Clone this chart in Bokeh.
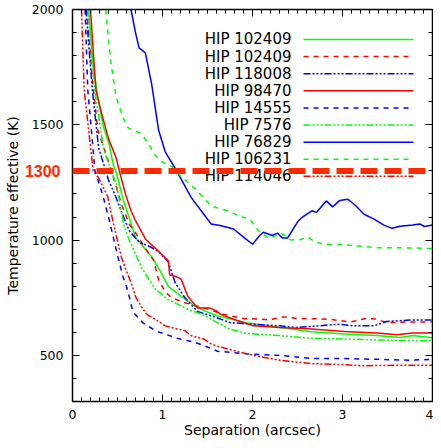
from bokeh.plotting import figure
from bokeh.models import (LinearAxis, Span, Range1d, SingleIntervalTicker, FixedTicker,
                          CustomJSTickFormatter)
from bokeh.core.properties import value
from bokeh.embed import file_html
from bokeh.resources import INLINE

# ---------------- data ----------------
names = ["HIP 102409", "HIP 102409", "HIP 118008", "HIP 98470", "HIP 14555",
         "HIP 7576", "HIP 76829", "HIP 106231", "HIP 114046"]

sep_102409_g = [0.18, 0.23, 0.286, 0.34, 0.41, 0.45, 0.49, 0.557, 0.63, 0.70, 0.74, 0.85, 0.88, 0.99,
                1.065, 1.21, 1.39, 1.61, 1.93, 2.30, 2.66, 3.02, 3.38, 3.64, 3.78, 4.0]
teff_102409_g = [2000, 1754, 1611, 1497, 1412, 1330, 1290, 1184, 1098, 1010, 995, 941, 928, 856,
                 799, 756, 706, 671, 642, 621, 603, 593, 586, 578, 586, 576]

sep_102409_r = [0.16, 0.22, 0.28, 0.41, 0.47, 0.55, 0.63, 0.72, 0.80, 0.90, 0.957, 1.03, 1.10, 1.25,
                1.46, 1.68, 1.90, 2.08, 2.19, 2.33, 2.48, 2.84, 3.09, 3.27, 3.38, 3.49, 3.75, 4.0]
teff_102409_r = [2000, 1700, 1480, 1330, 1250, 1150, 1070, 1020, 970, 913, 828, 775, 750, 728,
                 706, 678, 660, 657, 654, 667, 661, 657, 645, 661, 657, 642, 645, 645]

sep_118008 = [0.15, 0.22, 0.29, 0.37, 0.40, 0.47, 0.54, 0.63, 0.74, 0.87, 0.957, 1.065, 1.14, 1.25,
              1.39, 1.57, 1.75, 2.01, 2.30, 2.48, 2.73, 2.95, 3.13, 3.35, 3.49, 3.75, 4.0]
teff_118008 = [2000, 1654, 1400, 1300, 1260, 1198, 1127, 1041, 991, 970, 949, 905, 815, 750,
               690, 668, 642, 635, 628, 621, 628, 635, 628, 628, 647, 653, 653]

sep_98470 = [0.20, 0.26, 0.32, 0.40, 0.486, 0.52, 0.59, 0.65, 0.70, 0.81, 0.96, 1.065, 1.08, 1.14,
             1.19, 1.21, 1.28, 1.39, 1.52, 1.59, 1.645, 1.79, 2.01, 2.30, 2.66, 3.02, 3.38, 3.60,
             3.78, 4.0]
teff_98470 = [2000, 1650, 1554, 1440, 1355, 1300, 1198, 1127, 1084, 1005, 950, 910, 849, 843,
              835, 828, 756, 706, 706, 695, 678, 657, 628, 621, 614, 604, 597, 590, 597, 597]

sep_14555 = [0.14, 0.17, 0.25, 0.34, 0.41, 0.49, 0.56, 0.60, 0.63, 0.67, 0.78, 0.92, 1.17, 1.36,
             1.54, 1.61, 1.93, 2.30, 2.66, 3.02, 3.38, 3.75, 4.0]
teff_14555 = [2000, 1650, 1300, 1190, 1085, 950, 842, 799, 756, 690, 642, 607, 573, 557,
              530, 518, 507, 500, 486, 486, 483, 479, 483]

sep_7576 = [0.17, 0.245, 0.345, 0.43, 0.49, 0.54, 0.576, 0.63, 0.67, 0.775, 0.92, 1.065, 1.28,
            1.46, 1.61, 1.75, 1.93, 2.30, 2.66, 3.02, 3.38, 3.75, 4.0]
teff_7576 = [2000, 1654, 1397, 1300, 1241, 1127, 1055, 1000, 965, 875, 787, 742, 700,
             675, 642, 614, 595, 586, 574, 571, 567, 564, 564]

sep_76829 = [0.65, 0.70, 0.74, 0.77, 0.81, 0.88, 0.957, 1.03, 1.14, 1.20, 1.28, 1.32, 1.54, 1.64,
             1.79, 1.90, 2.0, 2.08, 2.12, 2.22, 2.28, 2.33, 2.39, 2.51, 2.55, 2.66, 2.71, 2.82,
             2.89, 2.97, 3.06, 3.15, 3.24, 3.35, 3.46, 3.55, 3.64, 3.78, 3.86, 3.91, 4.0]
teff_76829 = [2000, 1900, 1833, 1825, 1811, 1675, 1476, 1383, 1312, 1270, 1212, 1184, 1070, 1063,
              1048, 1013, 982, 1020, 1034, 1020, 1030, 1009, 1009, 1084, 1098, 1127, 1120, 1170,
              1144, 1172, 1177, 1148, 1112, 1091, 1065, 1051, 1060, 1065, 1070, 1059, 1065]

sep_106231 = [0.37, 0.377, 0.43, 0.486, 0.56, 0.61, 0.65, 0.72, 0.77, 0.85, 0.92, 0.99, 1.10, 1.21,
              1.25, 1.39, 1.54, 1.72, 1.90, 1.96, 2.08, 2.19, 2.26, 2.32, 2.42, 2.51, 2.61, 2.70,
              2.80, 3.02, 3.38, 3.78, 4.0]
teff_106231 = [2000, 1960, 1761, 1618, 1533, 1490, 1480, 1470, 1460, 1412, 1369, 1340, 1320, 1275,
               1262, 1212, 1148, 1127, 1098, 1095, 1034, 1006, 1020, 1030, 1001, 999, 1013, 991,
               982, 980, 967, 966, 963]

sep_114046 = [0.10, 0.13, 0.23, 0.29, 0.39, 0.45, 0.54, 0.595, 0.667, 0.70, 0.74, 0.81, 0.85, 0.92,
              1.03, 1.10, 1.25, 1.32, 1.46, 1.54, 1.61, 1.83, 2.01, 2.30, 2.66, 3.02, 3.20, 3.57,
              4.0]
teff_114046 = [2000, 1650, 1300, 1270, 1190, 1080, 930, 870, 799, 756, 728, 685, 671, 657,
               628, 621, 607, 585, 571, 550, 540, 517, 500, 479, 464, 460, 455, 457, 457]

threshold = 1300
x_min, x_max = 0, 4
y_min, y_max = 300, 2000
x_ticks_interval = 1
y_ticks_interval = 500

# ---------------- styling ----------------
GREEN, RED, BLUE = "#00ff00", "#ff0000", "#0000ff"
DASH = "5 5"
DASH3DOT = "7 2 2 2 2 2 2 2"
series = [
    (sep_102409_g, teff_102409_g, GREEN, "solid"),
    (sep_102409_r, teff_102409_r, RED, DASH),
    (sep_118008, teff_118008, BLUE, DASH3DOT),
    (sep_98470, teff_98470, RED, "solid"),
    (sep_14555, teff_14555, BLUE, DASH),
    (sep_7576, teff_7576, GREEN, DASH3DOT),
    (sep_76829, teff_76829, BLUE, "solid"),
    (sep_106231, teff_106231, GREEN, DASH),
    (sep_114046, teff_114046, RED, DASH3DOT),
]

FONT = "DejaVu Sans"
THR = "#ff2a00"

p = figure(width=433, height=440, x_range=Range1d(x_min, x_max), y_range=Range1d(y_min, y_max),
           output_backend="svg", toolbar_location=None,
           min_border_left=72, min_border_right=1, min_border_top=9, min_border_bottom=39)
p.outline_line_color = None
p.xgrid.visible = False
p.ygrid.visible = False
p.background_fill_color = "white"
p.border_fill_color = "white"

bottom = p.below[0]
left = p.left[0]

xt = SingleIntervalTicker(interval=x_ticks_interval, num_minor_ticks=10)
yt = SingleIntervalTicker(interval=y_ticks_interval, num_minor_ticks=5)
bottom.ticker = xt
left.ticker = yt

# mirror axes (ticks only) on top and right
blank = CustomJSTickFormatter(code="return ''")
top = LinearAxis(ticker=xt, formatter=blank)
right = LinearAxis(ticker=yt, formatter=blank)
p.add_layout(top, "above")
p.add_layout(right, "right")

for ax in [bottom, left, top, right]:
    ax.major_tick_in = 7
    ax.major_tick_out = 0
    ax.minor_tick_in = 4
    ax.minor_tick_out = 0
    ax.axis_line_width = 1.5
    ax.axis_line_color = "black"
    ax.major_tick_line_color = "black"
    ax.minor_tick_line_color = "black"
    ax.major_label_text_font = FONT
    ax.major_label_text_color = "black"

for ax in [top, right]:
    ax.major_label_text_font_size = "1px"
    ax.major_label_text_color = None
    ax.major_label_standoff = 0
    ax.axis_label_standoff = 0

bottom.major_label_text_font_size = "12.5px"
left.major_label_text_font_size = "12.5px"
bottom.major_label_standoff = 8
left.major_label_standoff = 9
bottom.axis_label = "Separation (arcsec)"
bottom.axis_label_text_font = FONT
bottom.axis_label_text_font_style = "normal"
bottom.axis_label_text_color = "black"
bottom.axis_label_text_font_size = "14px"
bottom.axis_label_standoff = 0

# outer left axis: carries only the red "1300" label (pulled back next to the frame)
# and the y axis title
thr_axis = LinearAxis(ticker=FixedTicker(ticks=[threshold], minor_ticks=[]))
thr_axis.axis_line_color = None
thr_axis.major_tick_line_color = None
thr_axis.minor_tick_line_color = None
thr_axis.major_tick_in = 0
thr_axis.major_tick_out = 0
thr_axis.minor_tick_in = 0
thr_axis.minor_tick_out = 0
thr_axis.major_label_standoff = -32
thr_axis.major_label_text_color = THR
thr_axis.major_label_text_font = "Liberation Sans"
thr_axis.major_label_text_font_style = "bold"
thr_axis.major_label_text_font_size = "16px"
thr_axis.axis_label = "Temperature effective (K)"
thr_axis.axis_label_text_font = FONT
thr_axis.axis_label_text_font_style = "normal"
thr_axis.axis_label_text_color = "black"
thr_axis.axis_label_text_font_size = "14px"
thr_axis.axis_label_standoff = 1
p.add_layout(thr_axis, "left")

for xs, ys, c, d in series:
    p.line(xs, ys, line_color=c, line_dash=d, line_width=1.5)

# legend (right-aligned labels, sample line to the right)
leg_text_x, leg_x0, leg_x1 = 2.433, 2.567, 3.789
leg_y0, leg_dy = 1870, 74.2
leg_ys = [leg_y0 - i * leg_dy for i in range(len(names))]
p.text(x=[leg_text_x] * len(names), y=leg_ys, text=names, text_align="right",
       text_baseline="middle", text_font=value(FONT), text_font_size="15px",
       text_color="black")
for (xs, ys, c, d), ly in zip(series, leg_ys):
    p.segment(x0=[leg_x0], y0=[ly], x1=[leg_x1], y1=[ly], line_color=c, line_dash=d,
              line_width=1.5)

# threshold line
p.add_layout(Span(location=threshold, dimension="width", line_color=THR, line_width=6,
                  line_dash="17 7"))

open("out.html", "w").write(file_html(p, INLINE))
